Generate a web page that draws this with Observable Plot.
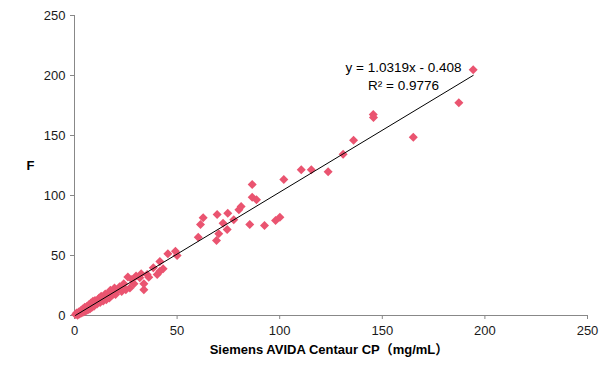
<!DOCTYPE html>
<html>
<head>
<meta charset="utf-8">
<script src="https://cdn.jsdelivr.net/npm/d3@7"></script>
<script src="https://cdn.jsdelivr.net/npm/@observablehq/plot@0.6"></script>
<style>
  html, body { margin: 0; padding: 0; background: #fff; }
  #chart svg { display: block; }
</style>
</head>
<body>
<div id="chart"></div>
<script>
// Siemens AVIDA Centaur CP (x) vs F (y)
const xValues = [
  0.5, 1, 1.5, 2, 2.5, 3, 3.5, 4, 4.5, 5, 5.5, 6, 6.5, 7, 7.5, 8, 8.5, 9, 9.5, 10,
  11, 12, 12.5, 13, 14, 15, 15.5, 16, 17, 17.5, 18, 19, 19.5, 20, 21, 22, 23, 24, 25, 26,
  27, 28, 29, 30,
  31.8, 32.5, 33.8, 33.8, 35.4, 36.2, 38.4, 40.3, 41.6, 43.2, 41.6, 45.5, 49.2, 50,
  60.3, 61.4, 62.7, 69.2, 70.3, 69.5, 72.4, 74.4, 74.7, 77.6, 80.1, 81.2, 85.4, 86.6,
  86.6, 88.7, 92.6, 98, 100.1, 102, 110.5, 115.4, 123.6, 130.9, 136, 145.6, 145.7,
  165.1, 187.3, 194.3
];
const yValues = [
  0.8, 2.0, 0.2, 3.0, 1.2, 4.0, 2.0, 5.5, 3.0, 6.8, 3.8, 7.5, 4.5, 9.0, 5.5, 10.5, 6.8, 11.8, 7.8, 12.5,
  9.5, 14.5, 10.8, 16.0, 12.0, 18.0, 13.2, 17.5, 14.5, 21.0, 16.5, 18.0, 23.0, 17.5, 21.5, 24.0, 20.0, 26.5, 21.5, 32.0,
  23.0, 30.0, 26.5, 33.0,
  31.4, 34.7, 26.4, 21.4, 34.2, 31.9, 39.7, 34.2, 36.9, 38.9, 45, 51.4, 53.6, 50,
  65.3, 75.8, 81.4, 62.5, 68.1, 84.2, 76.9, 71.7, 85.3, 79.7, 88.1, 90.8, 75.8, 109.2,
  98.6, 96.4, 75, 79.2, 81.9, 113.3, 121.4, 121.4, 119.8, 134.4, 146.1, 167.5, 165,
  148.6, 177.2, 204.7
];
const xTicks = [0, 50, 100, 150, 200, 250];
const yTicks = [0, 50, 100, 150, 200, 250];
const slope = 1.0319;
const intercept = -0.408;
const equationText = "y = 1.0319x - 0.408\nR² = 0.9776";
const xLabel = "Siemens AVIDA Centaur CP（mg/mL）";
const yLabel = "F";

const points = xValues.map((x, i) => ({x, y: yValues[i]}));
const [xMin, xMax] = d3.extent(xValues);
const trend = [xMin, xMax].map(x => ({x, y: slope * x + intercept}));

const font = "'Liberation Sans', Arial, 'Noto Sans CJK SC', sans-serif";

const chart = Plot.plot({
  width: 606,
  height: 379,
  marginLeft: 74,
  marginRight: 19,
  marginTop: 15,
  marginBottom: 64,
  style: {fontFamily: font, fontSize: "13px", color: "#1a1a1a", background: "#fff"},
  x: {domain: [0, 250], ticks: xTicks, label: null},
  y: {domain: [0, 250], ticks: yTicks, label: null},
  marks: [
    Plot.axisX({ticks: xTicks, tickSize: 4, tickPadding: 6, stroke: "#888", fill: "#1a1a1a", fontSize: 13, label: null}),
    Plot.axisY({ticks: yTicks, tickSize: 4, tickPadding: 5, stroke: "#888", fill: "#1a1a1a", fontSize: 13, label: null}),
    Plot.ruleX([0], {stroke: "#888"}),
    Plot.ruleY([0], {stroke: "#888"}),
    Plot.dot(points, {x: "x", y: "y", symbol: "square", r: 3.6, rotate: 45, fill: "#ea5470", stroke: "none"}),
    Plot.line(trend, {x: "x", y: "y", stroke: "#000", strokeWidth: 1}),
    Plot.text([equationText], {frameAnchor: "top-right", dx: -184, dy: 60, textAnchor: "middle", lineAnchor: "middle", lineHeight: 1.3, fontSize: 13.5, fill: "#000"}),
    Plot.text([yLabel], {frameAnchor: "left", dx: -48, fontSize: 13, fontWeight: "bold", fill: "#000"}),
    Plot.text([xLabel], {frameAnchor: "bottom", dy: 38, dx: -2, fontSize: 13, fontWeight: "bold", fill: "#000"})
  ]
});
document.getElementById("chart").appendChild(chart);
</script>
</body>
</html>
